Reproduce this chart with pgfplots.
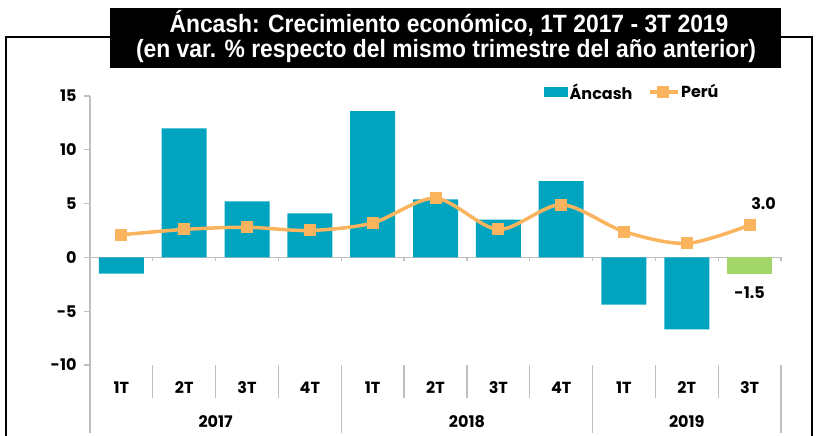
\documentclass[border=0pt]{standalone}
\usepackage{pgfplots}
\pgfplotsset{compat=1.18}
\usepackage{fontspec}
\setmainfont{Poppins}
\newfontfamily\titlefont[FakeStretch=0.915]{Liberation Sans}
\definecolor{barteal}{HTML}{00A4BF}
\definecolor{bargreen}{HTML}{A2D66A}
\definecolor{lineorange}{HTML}{FBB45E}
\definecolor{axgray}{HTML}{BFBFBF}
\begin{document}
\begin{tikzpicture}[x=1pt,y=1pt]
\useasboundingbox (0,0) rectangle (816,436);
\draw[line width=2pt] (6,-10) -- (6,398.5) -- (812,398.5) -- (812,-10);
\fill[black] (110,368) rectangle (781,428);
\node[anchor=base, text=white, font=\titlefont\bfseries\fontsize{25}{29}\selectfont, inner sep=0pt] at (449,403) {Áncash: Crecimiento económico, 1T 2017 - 3T 2019};
\node[anchor=base, text=white, font=\titlefont\bfseries\fontsize{25}{29}\selectfont, inner sep=0pt] at (446,378) {(en var. \% respecto del mismo trimestre del año anterior)};
\begin{axis}[
  at={(90pt,71pt)}, anchor=south west, scale only axis,
  width=691pt, height=269pt,
  xmin=-0.5, xmax=10.5, ymin=-10, ymax=15,
  clip=false,
  axis x line=none, axis y line*=left,
  y axis line style={axgray, line width=1.2pt},
  ytick={-10,-5,0,5,10,15},
  yticklabels={-10,-5,0,5,10,15},
  ytick style={axgray, line width=1.2pt},
  tick align=outside, major tick length=6pt,
  yticklabel style={font=\bfseries\fontsize{16}{19}\selectfont, xshift=-4pt},
  legend style={at={(0.657,1.015)}, anchor=west, draw=none, fill=none, inner sep=0pt,
    font=\bfseries\fontsize{16}{19}\selectfont, legend columns=2,
    /tikz/every even column/.append style={column sep=14pt},
    nodes={inner sep=1.5pt}},
]
\draw[axgray, line width=1.2pt] (axis cs:-0.5,0) -- (axis cs:10.5,0);
\pgfplotsinvokeforeach{-0.5,0.5,...,10.5}{\draw[axgray, line width=1.2pt] (axis cs:#1,0) -- ++(0pt,-4pt);}
\pgfplotsinvokeforeach{0.5,1.5,2.5,4.5,5.5,6.5,8.5,9.5}{\draw[axgray, line width=1.2pt] (axis cs:#1,-10) -- ++(0pt,-33pt);}
\pgfplotsinvokeforeach{-0.5,3.5,7.5,10.5}{\draw[axgray, line width=1.2pt] (axis cs:#1,-10) -- ++(0pt,-68pt);}

\addplot[ybar, bar width=45pt, bar shift=0pt, fill=barteal, draw=none,
  legend image code/.code={\fill[barteal] (0pt,-5pt) rectangle (24pt,5pt);}]
  coordinates {(0,-1.5) (1,12.0) (2,5.2) (3,4.1) (4,13.6) (5,5.4) (6,3.5) (7,7.1) (8,-4.4) (9,-6.7)};
\addlegendentry{Áncash}
\addplot[ybar, bar width=45pt, bar shift=0pt, fill=bargreen, draw=none, forget plot]
  coordinates {(10,-1.5)};
\addplot[lineorange, line width=3.5pt, smooth, mark=square*, mark size=5.5pt,
  mark options={fill=lineorange, draw=lineorange, line width=0pt},
  legend image code/.code={\draw[lineorange, line width=3.5pt] (0pt,0pt) -- (28pt,0pt);
    \fill[lineorange] (9pt,-4pt) rectangle (17pt,4pt);}]
  coordinates {(0,2.1) (1,2.6) (2,2.8) (3,2.5) (4,3.2) (5,5.5) (6,2.6) (7,4.9) (8,2.4) (9,1.3) (10,3.0)};
\addlegendentry{Perú}

\node[font=\bfseries\fontsize{16}{19}\selectfont] at (axis cs:10,3) [xshift=14pt, yshift=22pt] {3.0};
\node[font=\bfseries\fontsize{16}{19}\selectfont] at (axis cs:10,-1.5) [yshift=-19pt] {-1.5};

\node[font=\bfseries\fontsize{16}{19}\selectfont] at (axis cs:0,-10) [yshift=-23pt] {1T};
\node[font=\bfseries\fontsize{16}{19}\selectfont] at (axis cs:1,-10) [yshift=-23pt] {2T};
\node[font=\bfseries\fontsize{16}{19}\selectfont] at (axis cs:2,-10) [yshift=-23pt] {3T};
\node[font=\bfseries\fontsize{16}{19}\selectfont] at (axis cs:3,-10) [yshift=-23pt] {4T};
\node[font=\bfseries\fontsize{16}{19}\selectfont] at (axis cs:4,-10) [yshift=-23pt] {1T};
\node[font=\bfseries\fontsize{16}{19}\selectfont] at (axis cs:5,-10) [yshift=-23pt] {2T};
\node[font=\bfseries\fontsize{16}{19}\selectfont] at (axis cs:6,-10) [yshift=-23pt] {3T};
\node[font=\bfseries\fontsize{16}{19}\selectfont] at (axis cs:7,-10) [yshift=-23pt] {4T};
\node[font=\bfseries\fontsize{16}{19}\selectfont] at (axis cs:8,-10) [yshift=-23pt] {1T};
\node[font=\bfseries\fontsize{16}{19}\selectfont] at (axis cs:9,-10) [yshift=-23pt] {2T};
\node[font=\bfseries\fontsize{16}{19}\selectfont] at (axis cs:10,-10) [yshift=-23pt] {3T};
\node[font=\bfseries\fontsize{16}{19}\selectfont] at (axis cs:1.5,-10) [yshift=-57pt] {2017};
\node[font=\bfseries\fontsize{16}{19}\selectfont] at (axis cs:5.5,-10) [yshift=-57pt] {2018};
\node[font=\bfseries\fontsize{16}{19}\selectfont] at (axis cs:9,-10) [yshift=-57pt] {2019};
\end{axis}
\end{tikzpicture}
\end{document}
